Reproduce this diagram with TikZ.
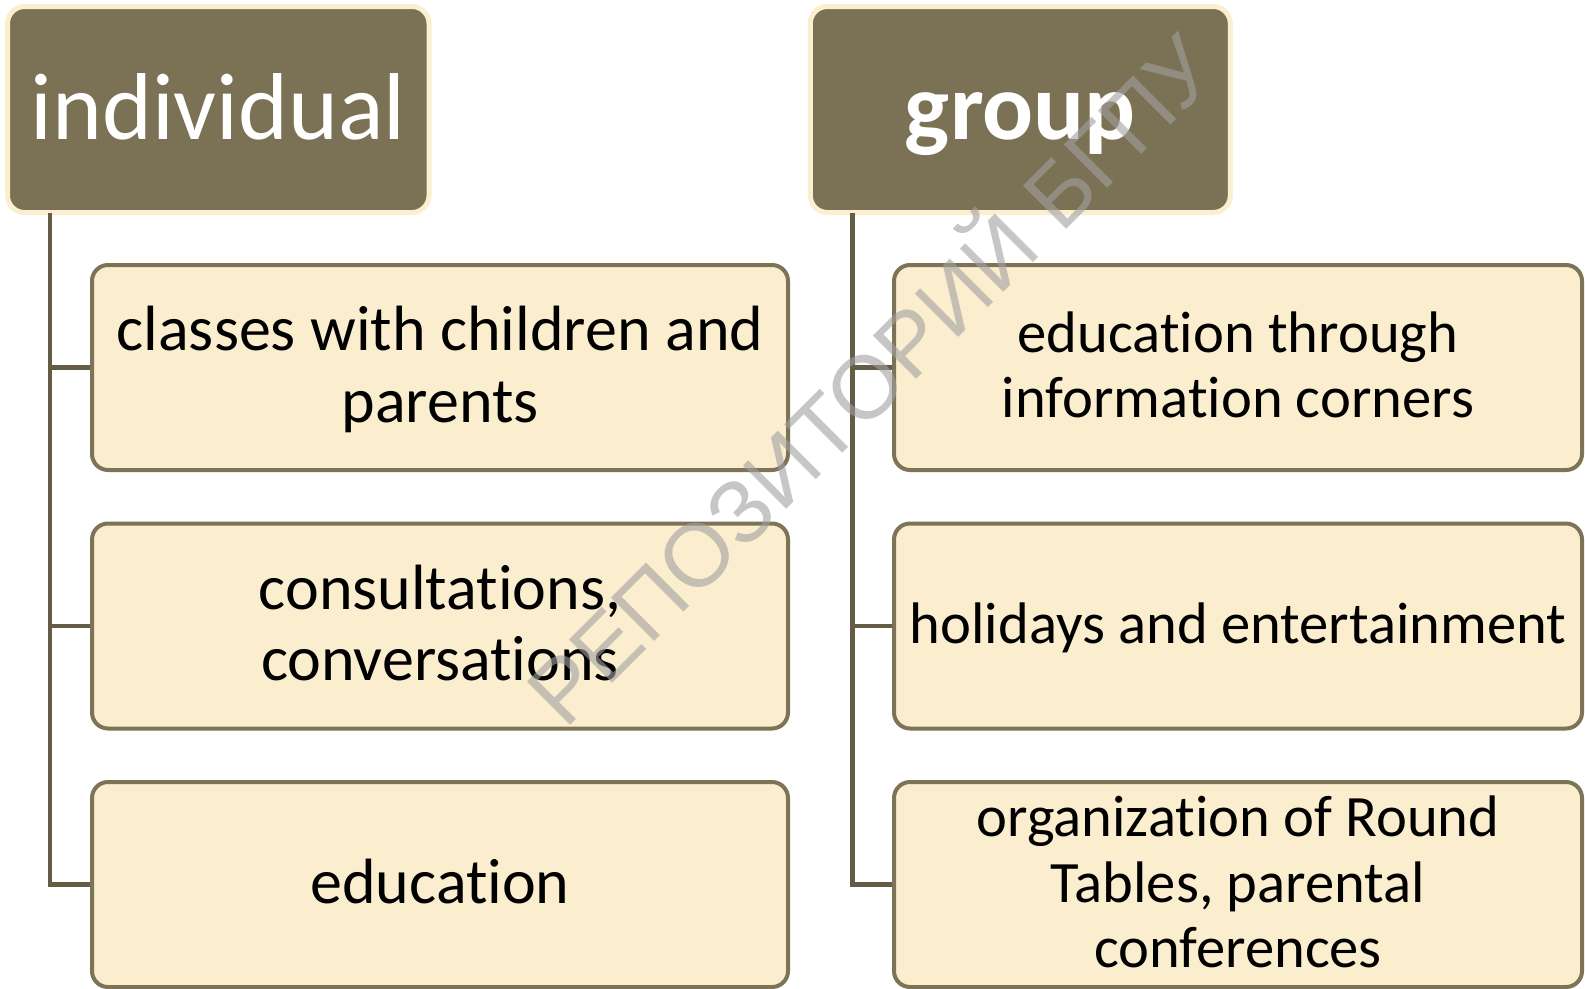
\documentclass[tikz,border=0pt]{standalone}
\usepackage{fontspec}
\setmainfont{Carlito}[Ligatures={NoCommon}]
\newfontfamily\wmfont{Liberation Sans}
\definecolor{hdr}{RGB}{123,113,84}
\definecolor{cream}{RGB}{251,239,208}
\definecolor{boxfill}{RGB}{251,238,206}
\definecolor{boxline}{RGB}{125,115,86}
\definecolor{connc}{RGB}{100,92,68}
\definecolor{wmgray}{RGB}{160,160,160}
\newcommand\ls{\rule[-0.25em]{0pt}{1.1em}}
\begin{document}
\begin{tikzpicture}[x=1pt,y=-1pt,
 hdrbox/.style={draw=cream, fill=hdr, line width=5pt, rounded corners=17pt, minimum height=206pt, inner sep=0pt, text=white, font=\fontsize{95}{110}\selectfont, text height=59pt, text depth=0pt},
 childbox/.style={draw=boxline, fill=boxfill, line width=4pt, rounded corners=16pt, minimum height=205pt, inner sep=0pt, align=center, text=black},
 leftbox/.style={childbox, minimum width=696pt, font=\fontsize{64}{71.5}\selectfont},
 rightbox/.style={childbox, minimum width=688pt, font=\fontsize{58.6}{65.5}\selectfont},
 connline/.style={draw=connc, line width=4.5pt, line join=miter},
 wm/.style={font=\wmfont\fontsize{89}{95}\selectfont, text=wmgray, text opacity=0.6, inner sep=0pt}
]
\useasboundingbox (0,0) rectangle (1585,988);
\fill[white] (0,0) rectangle (1585,988);

\node[hdrbox, minimum width=421.5pt] (ind) at (218.25,109.5) {individual};
\node[hdrbox, minimum width=420pt] (grp) at (1020.3,109.5) {\bfseries group};

\node[leftbox] (l1) at (440,367.5) {\ls classes with children and\\\ls parents};
\node[leftbox] (l2) at (440,626) {\ls consultations,\\\ls conversations};
\node[leftbox] (l3) at (440,884.5) {\ls education};

\node[rightbox] (r1) at (1238,367.5) {\ls education through\\\ls information corners};
\node[rightbox] (r2) at (1238,626) {\ls holidays and entertainment};
\node[rightbox] (r3) at (1238,884.5) {\ls organization of Round\\\ls Tables, parental\\\ls conferences};

\coordinate (LT) at ([xshift=45pt,yshift=2pt]ind.south west);
\coordinate (RT) at ([xshift=44.7pt,yshift=2pt]grp.south west);

\draw[connline] (LT) |- (l3.west);
\draw[connline] (l1.west) -- (l1.west -| LT);
\draw[connline] (l2.west) -- (l2.west -| LT);

\draw[connline] (RT) |- (r3.west);
\draw[connline] (r1.west) -- (r1.west -| RT);
\draw[connline] (r2.west) -- (r2.west -| RT);

\node[wm, rotate=45, anchor=base west] (wmark) at (565,731) {РЕПОЗИТОРИЙ БГПУ};
\end{tikzpicture}
\end{document}
